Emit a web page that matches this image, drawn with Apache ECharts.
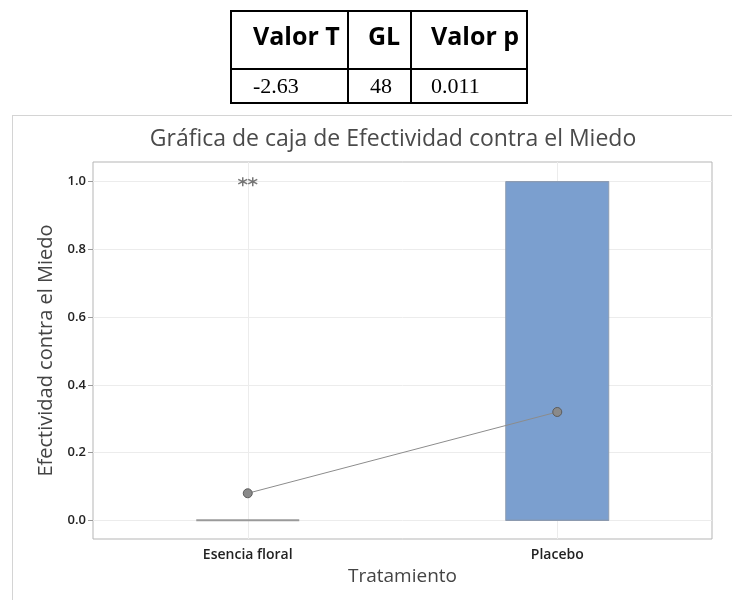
<!DOCTYPE html>
<html><head><meta charset="utf-8">
<script src="https://cdn.jsdelivr.net/npm/echarts@6/dist/echarts.min.js"></script>
<style>
html,body{margin:0;padding:0;background:#fff;width:732px;height:600px;overflow:hidden;}
#chart{position:absolute;left:0;top:0;width:732px;height:600px;}
#frame{position:absolute;left:12px;top:115px;width:730px;height:500px;border-left:1px solid #d4d4d4;border-top:1px solid #d4d4d4;}
#tbl{position:absolute;left:230px;top:10px;border-collapse:collapse;table-layout:fixed;}
#tbl td{border:2px solid #000;padding:0 0 0 21px;vertical-align:top;white-space:nowrap;overflow:hidden;}
#tbl tr.h td{height:56px;font-family:"Open Sans",sans-serif;font-weight:700;font-size:25px;color:#000;line-height:46px;}
#tbl tr.v td{height:30px;font-family:"Liberation Serif","Times New Roman",serif;font-size:22px;color:#000;line-height:32px;}
</style>
</head><body>
<div id="frame"></div>
<div id="chart"></div>
<table id="tbl"><colgroup><col style="width:117px"><col style="width:63px"><col style="width:116px"></colgroup>
<tr class="h"></tr><tr class="v"></tr></table>
<script>
const categories = ['Esencia floral', 'Placebo'];
const boxStats = [[0, 0, 0, 0, 0], [0, 0, 0, 1, 1]]; // min, Q1, median, Q3, max
const means = [0.08, 0.32];
const outliers = [[0, 1], [0, 1]]; // [category index, value]
const yTicks = [0, 0.2, 0.4, 0.6, 0.8, 1.0];
const tableHeaders = ['Valor T', 'GL', 'Valor p'];
const tableValues = ['-2.63', '48', '0.011'];

// table
const rows = document.querySelectorAll('#tbl tr');
tableHeaders.forEach(t => { const td = document.createElement('td'); td.textContent = t; rows[0].appendChild(td); });
tableValues.forEach(t => { const td = document.createElement('td'); td.textContent = t; rows[1].appendChild(td); });
rows[0].children[1].style.paddingLeft = '19px';
rows[0].children[2].style.paddingLeft = '19px';
rows[1].children[2].style.paddingLeft = '19px';

const outlierOffsets = [[-5, 0], [5, 0]];
const chart = echarts.init(document.getElementById('chart'), null, {renderer: 'canvas'});
const font = '"Open Sans", "Noto Sans", sans-serif';
chart.setOption({
  animation: false,
  backgroundColor: 'transparent',
  title: {
    text: 'Gráfica de caja de Efectividad contra el Miedo',
    left: 393, top: 128, textAlign: 'center', padding: 0,
    textStyle: {fontFamily: font, fontSize: 23, fontWeight: 'normal', color: '#4a4a4a'}
  },
  grid: {left: 93, right: 20, top: 162, bottom: 61, show: true, borderColor: '#b5b5b5', borderWidth: 1, backgroundColor: 'transparent'},
  xAxis: {
    type: 'category', data: categories,
    axisLine: {show: false},
    axisTick: {show: true, alignWithLabel: true, length: 5, lineStyle: {color: '#999'}},
    axisLabel: {fontFamily: font, fontSize: 14, fontWeight: 600, color: '#222', margin: 9},
    splitLine: {show: false},
    name: 'Tratamiento', nameLocation: 'middle', nameGap: 28,
    nameTextStyle: {fontFamily: font, fontSize: 19, color: '#444'}
  },
  yAxis: {
    type: 'value', min: -0.055, max: 1.058,
    axisLine: {show: false},
    axisTick: {show: true, length: 5, customValues: yTicks, lineStyle: {color: '#999'}},
    axisLabel: {customValues: yTicks, fontFamily: font, fontSize: 13, fontWeight: 600, color: '#222', margin: 7,
      formatter: v => Number(v).toFixed(1)},
    splitLine: {show: true, lineStyle: {color: '#ececec', width: 1}},
    name: 'Efectividad contra el Miedo', nameLocation: 'middle', nameGap: 37,
    nameTextStyle: {fontFamily: font, fontSize: 20, color: '#444'}
  },
  series: [
    {
      type: 'line', data: [], z: 1, silent: true,
      markLine: {silent: true, z: 1, symbol: 'none', label: {show: false},
        lineStyle: {color: '#ececec', width: 1, type: 'solid'},
        data: categories.map(c => ({xAxis: c}))}
    },
    {
      type: 'boxplot', z: 3,
      boxWidth: [103, 103],
      itemStyle: {color: '#7b9fcf', borderColor: '#8d9bb0', borderWidth: 1},
      data: boxStats.map((b, i) => i === 0
        ? {value: b, itemStyle: {borderColor: '#9a9a9a', borderWidth: 2}}
        : {value: b})
    },
    {
      type: 'scatter', z: 4,
      symbol: 'path://M5,0 L5,10 M0.67,2.5 L9.33,7.5 M0.67,7.5 L9.33,2.5',
      symbolSize: 9,
      itemStyle: {color: 'none', borderColor: '#555', borderWidth: 1.5},
      data: outliers.map((o, i) => ({value: o, symbolOffset: outlierOffsets[i]}))
    },
    {
      type: 'line', z: 5, data: means,
      lineStyle: {color: '#8c8c8c', width: 1},
      symbol: 'circle', symbolSize: 9,
      itemStyle: {color: '#8a8a8a', borderColor: '#5c5c5c', borderWidth: 1}
    }
  ]
});
</script>
</body></html>
